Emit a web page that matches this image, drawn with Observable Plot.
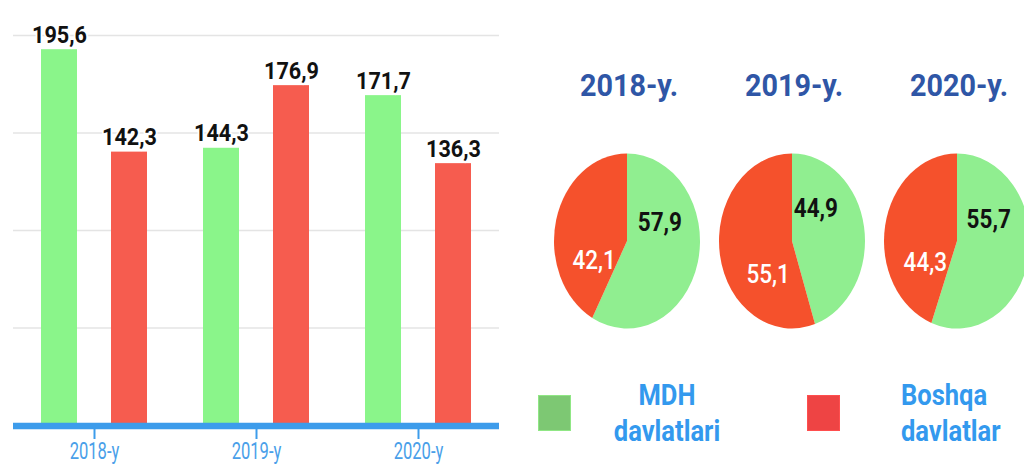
<!DOCTYPE html>
<html>
<head>
<meta charset="utf-8">
<script src="https://cdn.jsdelivr.net/npm/d3@7"></script>
<script src="https://cdn.jsdelivr.net/npm/@observablehq/plot@0.6"></script>
<style>
  html, body { margin: 0; padding: 0; background: #fff; }
  #root { position: relative; width: 1024px; height: 464px; overflow: hidden; background: #fff; font-family: Roboto, "Liberation Sans", sans-serif; }
  #bars { position: absolute; left: 0; top: 0; width: 512px; height: 464px; }
  #pies { position: absolute; left: 512px; top: 0; width: 512px; height: 464px; }
  .sw { position: absolute; width: 33px; height: 36px; box-sizing: border-box; }
  .lg { position: absolute; font: bold 29px/36px Roboto, sans-serif; color: #3399ee; white-space: nowrap; }
</style>
</head>
<body>
<div id="root">
  <div id="bars"></div>
  <div id="pies"></div>
  <div class="sw" id="sw0" style="left:538px; top:395px;"></div>
  <div class="lg" id="lg0" style="left:567px; top:377px; width:200px; text-align:center; transform:scaleX(0.88); transform-origin:50% 50%;"></div>
  <div class="sw" id="sw1" style="left:807px; top:395px;"></div>
  <div class="lg" id="lg1" style="left:901px; top:377px; width:200px; text-align:left; transform:scaleX(0.88); transform-origin:0 50%;"></div>
</div>
<script>
// ---- data ----
const years = ["2018-y", "2019-y", "2020-y"];
const series = ["MDH", "Boshqa"];
const seriesLabels = ["MDH\ndavlatlari", "Boshqa\ndavlatlar"];
const mdhValues = [195.6, 144.3, 171.7];
const otherValues = [142.3, 176.9, 136.3];
const mdhShare = [57.9, 44.9, 55.7];
const otherShare = [42.1, 55.1, 44.3];
const yMax = 203;
const gridValues = [0, 50.75, 101.5, 152.25, 203];

// ---- styles ----
const barColors = ["#8af58a", "#f65c4f"];
const pieColors = ["#90ee90", "#f5512c"];
const legendColors = ["#7dc873", "#ee4444"];
const blue = "#3d9ceb";
const fmt = v => String(v).replace(".", ",");

// horizontally condense texts without touching their position
function condense(root, selector, sx) {
  root.querySelectorAll(selector).forEach(t => {
    const w = t.getComputedTextLength();
    if (w > 0) {
      t.setAttribute("textLength", (w * sx).toFixed(2));
      t.setAttribute("lengthAdjust", "spacingAndGlyphs");
    }
  });
}

const barData = years.flatMap((yr, i) => [
  {year: yr, series: series[0], value: mdhValues[i]},
  {year: yr, series: series[1], value: otherValues[i]}
]);

const bars = Plot.plot({
  width: 512, height: 464,
  marginLeft: 12, marginRight: 13, marginTop: 35, marginBottom: 39,
  style: {fontFamily: "Roboto, sans-serif", background: "white"},
  fx: {domain: years, padding: 0, label: null, axis: null},
  x: {domain: series, paddingInner: 0.486, paddingOuter: 0.4, axis: null},
  y: {domain: [0, yMax], axis: null},
  color: {domain: series, range: barColors},
  marks: [
    Plot.ruleY(gridValues.slice(1), {stroke: "#e4e4e4", strokeWidth: 1.5}),
    Plot.axisFx({anchor: "bottom", tickSize: 14, tickPadding: 3, stroke: blue, strokeWidth: 2, fill: "#4a9fe9", fontSize: 23, label: null, tickFormat: d => d}),
    Plot.barY(barData, {fx: "year", x: "series", y: "value", fill: "series"}),
    Plot.ruleY([0], {stroke: blue, strokeWidth: 6.5, dy: 0.5}),
    Plot.text(barData, {fx: "year", x: "series", y: "value", text: d => fmt(d.value), lineAnchor: "bottom", dy: -7,
      fontSize: 24, fontWeight: "bold", fill: "#111", stroke: "white", strokeWidth: 4, paintOrder: "stroke"})
  ]
});
document.getElementById("bars").appendChild(bars);
condense(bars, 'g[aria-label="fx-axis tick label"] text', 0.72);
condense(bars, 'g[aria-label="text"] text', 0.9);

// ---- pies ----
const pieData = years.map((yr, i) => ({year: yr, values: [mdhShare[i], otherShare[i]]}));
const rx = 73, ry = 87.5, cyPie = 241, titleY = 96;

function pieMark(index, scales, values, dimensions, context) {
  const g = d3.create("svg:g");
  const pie = d3.pie().sort(null).value(d => d);
  const arc = d3.arc().innerRadius(0).outerRadius(rx);
  for (const d of pieData) {
    const cx = scales.x(d.year);
    const arcs = pie(d.values);
    g.append("text")
      .attr("transform", `translate(${cx + 2},${titleY}) scale(0.9,1)`)
      .attr("text-anchor", "middle")
      .attr("font-size", 32).attr("font-weight", "bold").attr("fill", "#2f56a6")
      .text(d.year + ".");
    const slices = g.append("g").attr("transform", `translate(${cx},${cyPie}) scale(1,${ry / rx})`);
    slices.selectAll("path").data(arcs).join("path")
      .attr("d", arc).attr("fill", (a, j) => pieColors[j]);
    const labels = g.append("g").attr("transform", `translate(${cx},${cyPie})`);
    arcs.forEach((a, j) => {
      const ang = (a.startAngle + a.endAngle) / 2 - 40 * Math.PI / 180;
      const r = 0.5 * rx;
      const lx = r * Math.sin(ang), ly = -r * Math.cos(ang) * ry / rx;
      labels.append("text")
        .attr("transform", `translate(${lx},${ly}) scale(0.9,1)`)
        .attr("text-anchor", "middle").attr("dy", "0.35em")
        .attr("font-size", 25).attr("font-weight", j === 0 ? "bold" : 500)
        .attr("fill", j === 0 ? "#111" : "#fff")
        .text(fmt(d.values[j]));
    });
  }
  return g.node();
}

const pies = Plot.plot({
  width: 512, height: 464,
  margin: 0,
  style: {fontFamily: "Roboto, sans-serif", background: "transparent", overflow: "visible"},
  x: {type: "point", domain: years, range: [114, 445], padding: 0, axis: null},
  marks: [
    Plot.frame({stroke: "none", x: years}),
    pieMark
  ]
});
document.getElementById("pies").appendChild(pies);

// ---- legend ----
[0, 1].forEach(i => {
  const sw = document.getElementById("sw" + i);
  sw.style.background = legendColors[i];
  sw.style.border = "1px solid " + d3.color(legendColors[i]).brighter(0.4);
  const lg = document.getElementById("lg" + i);
  lg.innerHTML = seriesLabels[i].split("\n").join("<br>");
});
</script>
</body>
</html>
